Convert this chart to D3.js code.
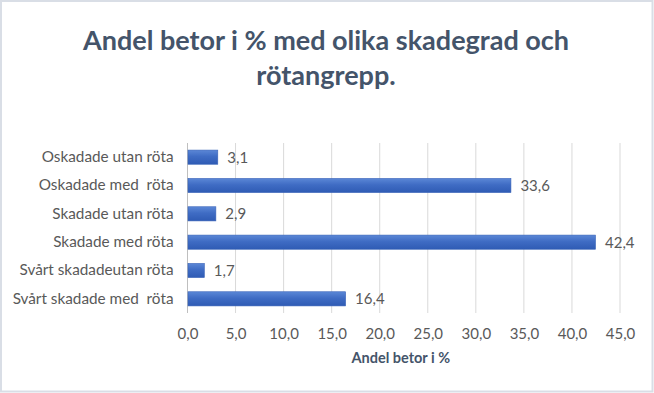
<!DOCTYPE html>
<html>
<head>
<meta charset="utf-8">
<script src="https://cdn.jsdelivr.net/npm/d3@7.9.0/dist/d3.min.js"></script>
<style>
  html, body { margin: 0; padding: 0; background: #fff; }
  svg { display: block; }
  text { font-family: Lato, "Open Sans", sans-serif; white-space: pre; }
</style>
</head>
<body>
<svg id="chart" width="654" height="393"></svg>
<script>
const categories = [
  'Oskadade utan röta',
  'Oskadade med  röta',
  'Skadade utan röta',
  'Skadade med röta',
  'Svårt skadadeutan röta',
  'Svårt skadade med  röta'
];
const values = [3.1, 33.6, 2.9, 42.4, 1.7, 16.4];
const xTicks = [0, 5, 10, 15, 20, 25, 30, 35, 40, 45];
const titleLines = ['Andel betor i % med olika skadegrad och', 'rötangrepp.'];
const xTitle = 'Andel betor i %';

const svg = d3.select('#chart');
const W = 654, H = 393;
const margin = { top: 143, right: 34, bottom: 80, left: 187.5 };
const fmt = v => v.toFixed(1).replace('.', ',');

// frame
svg.append('rect')
  .attr('x', 1).attr('y', 1).attr('width', W - 2.5).attr('height', H - 2.5)
  .attr('fill', '#fff').attr('stroke', '#d9dee6').attr('stroke-width', 2);

// gradient for the bars
const grad = svg.append('defs').append('linearGradient')
  .attr('id', 'barGrad').attr('x1', 0).attr('y1', 0).attr('x2', 0).attr('y2', 1);
grad.append('stop').attr('offset', '0%').attr('stop-color', '#5b87d6');
grad.append('stop').attr('offset', '45%').attr('stop-color', '#3f6cc4');
grad.append('stop').attr('offset', '100%').attr('stop-color', '#2f5bb4');

const x = d3.scaleLinear().domain([0, 45]).range([margin.left, W - margin.right]);
const y = d3.scaleBand().domain(categories)
  .range([margin.top, H - margin.bottom]).paddingInner(0.5).paddingOuter(0.25);

// gridlines
svg.append('g')
  .selectAll('line').data(xTicks.slice(1)).join('line')
  .attr('x1', d => x(d)).attr('x2', d => x(d))
  .attr('y1', margin.top).attr('y2', H - margin.bottom)
  .attr('stroke', '#d9d9d9').attr('stroke-width', 1);

// vertical axis line
svg.append('line')
  .attr('x1', x(0)).attr('x2', x(0))
  .attr('y1', margin.top).attr('y2', H - margin.bottom)
  .attr('stroke', '#bfbfbf').attr('stroke-width', 1);

// x axis labels
const xAxis = d3.axisBottom(x).tickValues(xTicks).tickSize(0).tickPadding(15).tickFormat(fmt);
const gx = svg.append('g').attr('transform', `translate(0,${H - margin.bottom})`).call(xAxis);
gx.select('.domain').remove();
gx.selectAll('text').attr('fill', '#595959').style('font-size', '15px')
  .style('font-family', 'Lato, "Open Sans", sans-serif');

// y axis labels
const yAxis = d3.axisLeft(y).tickSize(0).tickPadding(14);
const gy = svg.append('g').attr('transform', `translate(${x(0)},0)`).call(yAxis);
gy.select('.domain').remove();
gy.selectAll('text').attr('fill', '#595959').style('font-size', '15.3px')
  .style('font-family', 'Lato, "Open Sans", sans-serif');

// bars
svg.append('g')
  .selectAll('rect').data(values).join('rect')
  .attr('x', x(0) + 0.5)
  .attr('y', (d, i) => y(categories[i]))
  .attr('width', d => x(d) - x(0))
  .attr('height', y.bandwidth())
  .attr('fill', 'url(#barGrad)')
  .attr('stroke', '#3a64b8').attr('stroke-width', 0.6);

// value labels
svg.append('g')
  .selectAll('text').data(values).join('text')
  .attr('x', d => x(d) + 10)
  .attr('y', (d, i) => y(categories[i]) + y.bandwidth() / 2)
  .attr('dy', '0.36em')
  .attr('fill', '#595959').style('font-size', '15px')
  .text(fmt);

// title
svg.append('g')
  .selectAll('text').data(titleLines).join('text')
  .attr('x', W / 2 - 1).attr('y', (d, i) => 50 + i * 35)
  .attr('text-anchor', 'middle')
  .attr('fill', '#44546a')
  .style('font-size', '27px').style('font-weight', 'bold')
  .text(d => d);

// axis title
svg.append('text')
  .attr('x', x(22.5) - 3).attr('y', 363)
  .attr('text-anchor', 'middle')
  .attr('fill', '#44546a')
  .style('font-size', '14.5px').style('font-weight', 'bold')
  .text(xTitle);
</script>
</body>
</html>
